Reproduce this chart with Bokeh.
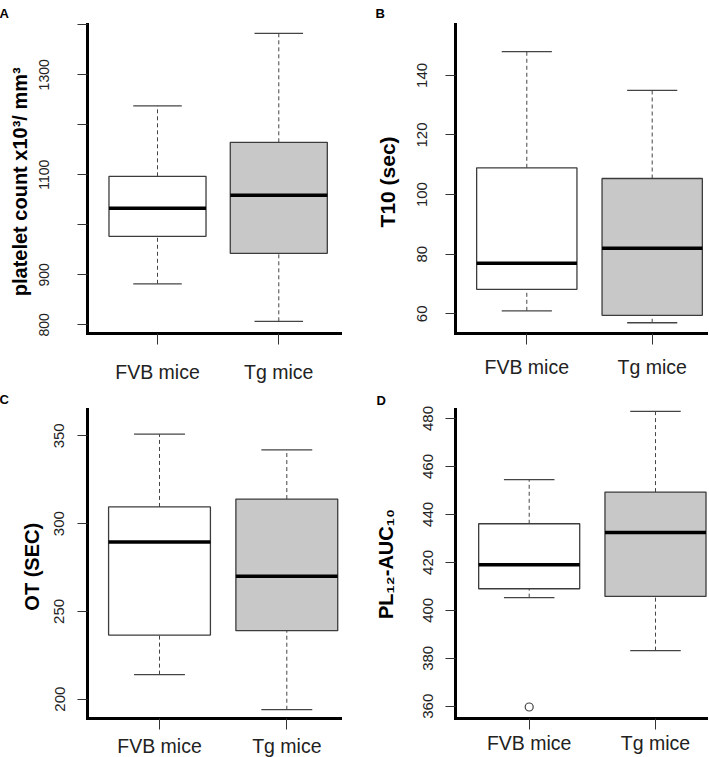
from bokeh.plotting import figure
from bokeh.layouts import gridplot
from bokeh.models import Range1d, FixedTicker, Title, ColumnDataSource
from bokeh.transform import dodge
from bokeh.embed import file_html
from bokeh.resources import INLINE

# ---------------- data ----------------
groups = ["FVB mice", "Tg mice"]
group_pos = [1, 2]
fills = ["white", "#c8c8c8"]

# A: platelet count
a_low = [882, 807]
a_q1 = [977, 943]
a_med = [1033, 1059]
a_q3 = [1097, 1165]
a_high = [1238, 1383]

# B: T10 (sec)
b_low = [61, 57]
b_q1 = [68.2, 59.5]
b_med = [77, 82]
b_q3 = [109, 105.4]
b_high = [148, 135]

# C: OT (SEC)
c_low = [214, 194]
c_q1 = [236.5, 239]
c_med = [289.5, 270]
c_q3 = [309.5, 314]
c_high = [351, 342]

# D: PL12-AUC10
d_low = [405.3, 383.2]
d_q1 = [409, 405.8]
d_med = [419, 432.5]
d_q3 = [436.1, 449.3]
d_high = [454.5, 483]
d_out_x = [1]
d_out_y = [359.7]

a_ticks = [800, 900, 1000, 1100, 1200, 1300, 1400]
a_hidden = [1000, 1200, 1400]
b_ticks = [60, 80, 100, 120, 140]
c_ticks = [200, 250, 300, 350]
d_ticks = [360, 380, 400, 420, 440, 460, 480]

FONT = "Liberation Sans"
BOX_LINE = "#3c3c3c"
WHISK = "#444444"


def make_panel(letter, letter_offset, letter_standoff, ylabel, xr, yr,
               yticks, hidden, fl, fw, fr, ft, fh, fb,
               ytick_font, ystand, ylab_stand, xstand,
               low, q1, med, q3, high, side_title=None):
    p = figure(x_range=Range1d(*xr), y_range=Range1d(*yr),
               frame_width=fw, frame_height=fh,
               min_border_left=fl, min_border_right=fr,
               min_border_top=ft, min_border_bottom=fb,
               output_backend="svg", toolbar_location=None, tools="",
               title=None)
    p.outline_line_color = None
    p.xgrid.visible = False
    p.ygrid.visible = False
    p.background_fill_color = "white"
    p.border_fill_color = "white"

    src = ColumnDataSource(dict(x=group_pos, low=low, q1=q1, med=med, q3=q3,
                                high=high, fill=fills))
    # whiskers
    p.segment(x0="x", y0="q3", x1="x", y1="high", source=src,
              line_color=WHISK, line_width=1, line_dash="4 3")
    p.segment(x0="x", y0="low", x1="x", y1="q1", source=src,
              line_color=WHISK, line_width=1, line_dash="4 3")
    # caps
    p.segment(x0=dodge("x", -0.2), y0="high", x1=dodge("x", 0.2), y1="high",
              source=src, line_color=WHISK, line_width=1.3)
    p.segment(x0=dodge("x", -0.2), y0="low", x1=dodge("x", 0.2), y1="low",
              source=src, line_color=WHISK, line_width=1.3)
    # boxes
    p.vbar(x="x", width=0.8, bottom="q1", top="q3", source=src,
           fill_color="fill", line_color=BOX_LINE, line_width=1.3)
    # medians
    p.segment(x0=dodge("x", -0.4), y0="med", x1=dodge("x", 0.4), y1="med",
              source=src, line_color="black", line_width=3.5, line_cap="butt")

    # axes
    for ax in (p.xaxis[0], p.yaxis[0]):
        ax.axis_line_width = 3
        ax.axis_line_color = "black"
        ax.axis_line_cap = "square"
        ax.major_tick_in = 0
        ax.minor_tick_line_color = None
        ax.major_tick_line_color = "#333333"
        ax.major_tick_line_width = 1
        ax.major_label_text_font = FONT
        ax.major_label_text_color = "#222222"
        ax.axis_label_text_font = FONT

    xa = p.xaxis[0]
    xa.ticker = FixedTicker(ticks=group_pos)
    xa.major_label_overrides = {pos: g for pos, g in zip(group_pos, groups)}
    xa.major_tick_out = 11
    xa.major_label_text_font_size = "19.5px"
    xa.major_label_standoff = xstand

    ya = p.yaxis[0]
    ya.ticker = FixedTicker(ticks=yticks)
    ya.major_label_overrides = {t: "" for t in hidden}
    ya.major_tick_out = 10
    ya.major_label_orientation = "vertical"
    ya.major_label_text_font_size = ytick_font
    ya.major_label_standoff = ystand
    if side_title is None:
        ya.axis_label = ylabel
        ya.axis_label_text_font_style = "bold"
        ya.axis_label_text_font_size = "20px"
        ya.axis_label_text_color = "black"
        ya.axis_label_standoff = ylab_stand
    else:
        st_offset, st_standoff = side_title
        p.add_layout(Title(text=ylabel, align="center", offset=st_offset,
                           standoff=st_standoff, text_font=FONT,
                           text_font_style="bold", text_font_size="21px",
                           text_color="black"), "left")

    p.add_layout(Title(text=letter, align="left", offset=letter_offset,
                       standoff=letter_standoff, text_font=FONT,
                       text_font_style="bold", text_font_size="13px",
                       text_color="black"), "above")
    return p


# Column 1 frames: x 87..340 ; column 2 frames: x 455..708
# Row 1 frames: y 23..332 ; row 2 frames: y 406..715
pA = make_panel("A", -88, 7, "platelet count  x10³/ mm³",
                (0.4229, 2.5087), (782.6, 1400.6), a_ticks, a_hidden,
                87, 253, 15, 23, 309, 49,
                "14px", 28, 6, 16,
                a_low, a_q1, a_med, a_q3, a_high)

pB = make_panel("B", -80, 7, "T10  (sec)",
                (0.4314, 2.449), (53.39, 157.08), b_ticks, [],
                100, 253, 0, 23, 309, 49,
                "15px", 18, 6, 11,
                b_low, b_q1, b_med, b_q3, b_high,
                side_title=(21, 31))

pC = make_panel("C", -88, 6, "OT  (SEC)",
                (0.4344, 2.4218), (189.0, 365.0), c_ticks, [],
                87, 253, 15, 24, 309, 41,
                "15px", 13, 9, 5,
                c_low, c_q1, c_med, c_q3, c_high)

pD = make_panel("D", -79, 4, "PL₁₂-AUC₁₀",
                (0.4165, 2.4197), (354.9, 483.75), d_ticks, [],
                100, 253, 0, 24, 309, 41,
                "15px", 12, 24, 2,
                d_low, d_q1, d_med, d_q3, d_high)

pD.scatter(x=d_out_x, y=d_out_y, marker="circle", size=8,
           fill_color=None, line_color=WHISK, line_width=1.2)

grid = gridplot([[pA, pB], [pC, pD]], toolbar_location=None)

open("out.html", "w").write(file_html(grid, INLINE))
